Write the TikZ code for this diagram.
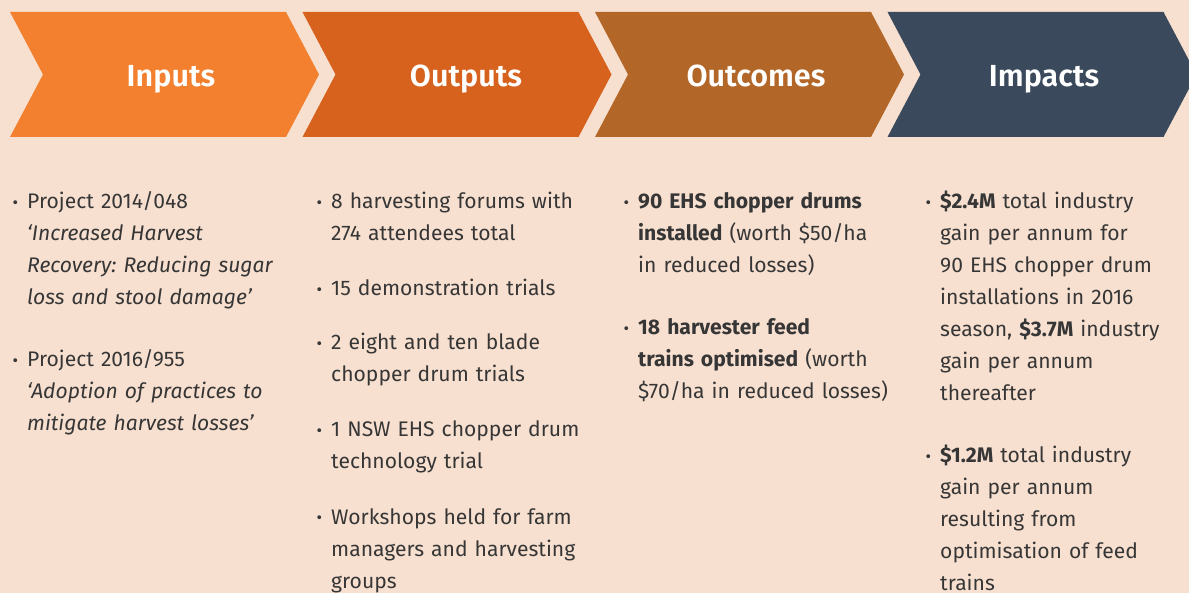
\documentclass[tikz,border=0pt]{standalone}
\usepackage{fontspec}
\setmainfont{Fira Sans}
\newfontfamily\headfont{Fira Sans SemiBold}
\definecolor{peach}{HTML}{F8E0D0}
\definecolor{inputc}{HTML}{F3802E}
\definecolor{outputc}{HTML}{D6621D}
\definecolor{outcomec}{HTML}{B26728}
\definecolor{impactc}{HTML}{3A4A5C}
\definecolor{ink}{HTML}{363636}
\newcommand{\bul}{\llap{\raisebox{0.5pt}{\fontsize{17}{17}\selectfont •}\hspace{9pt}}}
\tikzset{
  head/.style={anchor=base, inner sep=0pt, text=white, font=\fontsize{30.5}{31}\selectfont\headfont},
  item/.style={anchor=base west, inner sep=0pt, text width=258pt, align=left, text=ink,
    font=\fontsize{21.1}{32}\selectfont\frenchspacing},
}
\begin{document}
\begin{tikzpicture}[x=1pt, y=-1pt]
\fill[peach] (0,0) rectangle (1189,593);
\useasboundingbox (0,0) rectangle (1189,593);
% chevron banner
\foreach \x/\c in {10/inputc, 302.5/outputc, 595/outcomec, 887.5/impactc}
  \fill[\c] (\x,12) -- ++(276,0) -- ++(33,62.5) -- ++(-33,62.5) -- ++(-276,0) -- ++(33,-62.5) -- cycle;
\node[head] (hIn)  at (171,87)  {Inputs};
\node[head] (hOut) at (466,87)  {Outputs};
\node[head] (hOc)  at (756,87)  {Outcomes};
\node[head] (hIm)  at (1044,87) {Impacts};
% Inputs
\node[item] (in1) at (27,209) {\bul Project 2014/048\\ \itshape ‘Increased Harvest\\ Recovery: Reducing sugar\\ loss and stool damage’};
\node[item] (in2) at (27,367) {\bul Project 2016/955\\ \itshape ‘Adoption of practices to\\ mitigate harvest losses’};
% Outputs
\node[item] (out1) at (331,209) {\bul 8 harvesting forums with\\ 274 attendees total};
\node[item] (out2) at (331,296) {\bul 15 demonstration trials};
\node[item] (out3) at (331,350) {\bul 2 eight and ten blade\\ chopper drum trials};
\node[item] (out4) at (331,437) {\bul 1 NSW EHS chopper drum\\ technology trial};
\node[item] (out5) at (331,524) {\bul Workshops held for farm\\ managers and harvesting\\ groups};
% Outcomes
\node[item] (oc1) at (638,209) {\bul {\bfseries 90 EHS chopper drums\\ installed} (worth \$50/ha\\ in reduced losses)};
\node[item] (oc2) at (638,335) {\bul {\bfseries 18 harvester feed\\ trains optimised} (worth\\ \$70/ha in reduced losses)};
% Impacts
\node[item] (im1) at (940,209) {\bul {\bfseries \$2.4M} total industry\\ gain per annum for\\ 90 EHS chopper drum\\ installations in 2016\\ season, {\bfseries \$3.7M} industry\\ gain per annum\\ thereafter};
\node[item] (im2) at (940,463) {\bul {\bfseries \$1.2M} total industry\\ gain per annum\\ resulting from\\ optimisation of feed\\ trains};
\end{tikzpicture}
\end{document}
